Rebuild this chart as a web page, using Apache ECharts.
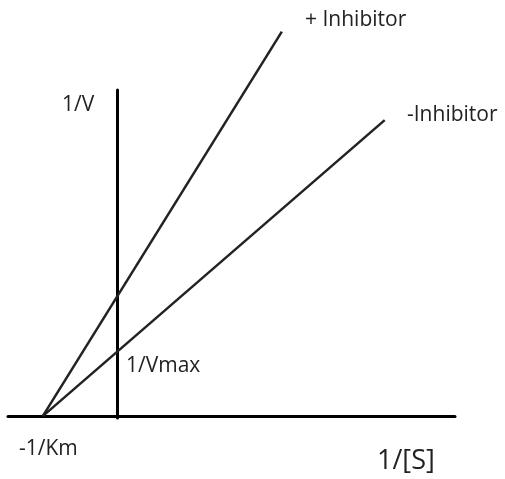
<!DOCTYPE html>
<html>
<head>
    <meta charset="UTF-8">
    <title>Lineweaver-Burk</title>
    <script src="https://cdn.jsdelivr.net/npm/echarts@6/dist/echarts.min.js"></script>
    <style type="text/css">
        *{padding:0;margin:0}
        body{background:#fff;}
        #chart{width:505px;height:479px;}
    </style>
</head>
<body>
<div id="chart"></div>
<script type="text/javascript">
    // 1/[S] on x, 1/V on y. -1/Km = -1, 1/Vmax (no inhibitor) = 1
    var seriesNames = ['+ Inhibitor', '-Inhibitor'];
    var plusInhibitor = [[-1, 0], [2.23, 6.0]];
    var minusInhibitor = [[-1, 0], [3.62, 4.62]];
    var xRange = [-1.47, 4.57];
    var yRange = [-0.03, 5.09];

    var font = '"Open Sans", "Noto Sans", sans-serif';
    var ink = '#222';

    // x = left edge, y = vertical middle of the text
    function label(text, x, y, size) {
        return {
            type: 'text', x: x, y: y,
            style: {
                text: text, font: size + 'px ' + font, fill: ink,
                textAlign: 'left', textVerticalAlign: 'middle'
            }
        };
    }

    var chart = echarts.init(document.getElementById('chart'));
    var option = {
        backgroundColor: '#fff',
        animation: false,
        grid: {left: 8, right: 50, top: 90, bottom: 61},
        xAxis: {
            type: 'value', min: xRange[0], max: xRange[1],
            axisLine: {onZero: true, lineStyle: {color: '#000', width: 3}},
            axisTick: {show: false}, axisLabel: {show: false}, splitLine: {show: false}
        },
        yAxis: {
            type: 'value', min: yRange[0], max: yRange[1],
            axisLine: {onZero: true, lineStyle: {color: '#000', width: 3}},
            axisTick: {show: false}, axisLabel: {show: false}, splitLine: {show: false}
        },
        series: [
            {
                name: seriesNames[0], type: 'line', data: plusInhibitor,
                symbol: 'none', clip: false,
                lineStyle: {color: ink, width: 2.5}
            },
            {
                name: seriesNames[1], type: 'line', data: minusInhibitor,
                symbol: 'none', clip: false,
                lineStyle: {color: ink, width: 2.5}
            }
        ],
        graphic: [
            label('+ Inhibitor', 305, 20, 21),
            label('-Inhibitor', 407, 115, 21),
            label('1/V', 62, 105, 21),
            label('1/Vmax', 126, 366, 21),
            label('-1/Km', 19, 449, 21),
            label('1/[S]', 377, 461, 27)
        ]
    };
    chart.setOption(option);
</script>
</body>
</html>
